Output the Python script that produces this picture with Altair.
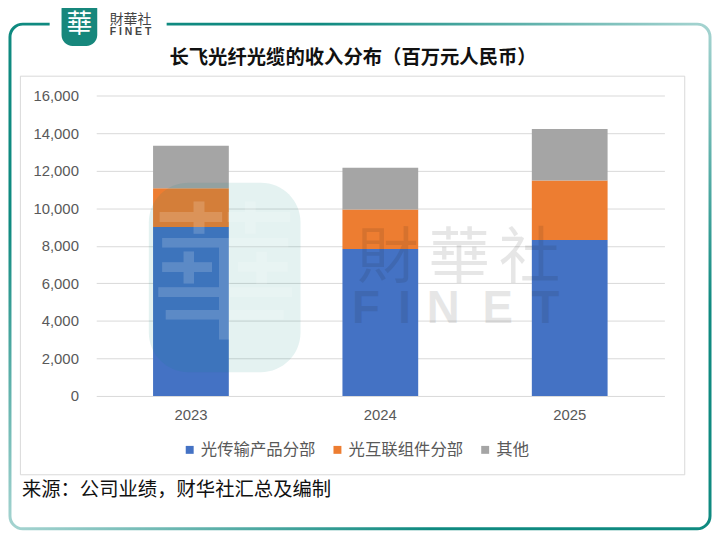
import altair as alt
import pandas as pd

# ---------------- data ----------------
years = ["2023", "2024", "2025"]
series = ["光传输产品分部", "光互联组件分部", "其他"]
transmission = [9000, 7820, 8300]
interconnect = [2060, 2115, 3170]
other = [2260, 2220, 2750]
series_colors = ["#4472C4", "#ED7D31", "#A5A5A5"]
y_ticks = [0, 2000, 4000, 6000, 8000, 10000, 12000, 14000, 16000]
title_text = "长飞光纤光缆的收入分布（百万元人民币）"
source_text = "来源：公司业绩，财华社汇总及编制"
logo_cn = "財華社"
logo_en = "FINET"
logo_char = "華"

rows = []
for k, (name, vals) in enumerate(zip(series, [transmission, interconnect, other])):
    for yr, v in zip(years, vals):
        rows.append({"year": yr, "series": name, "value": v, "k": k})
df = pd.DataFrame(rows)
one = pd.DataFrame({"d": [0]})

W, H = 573, 303
OX, OY = 97, 94  # page position of plot origin


def vx(X):
    return X - OX


def vy(Y):
    return Y - OY


CJK = "Noto Sans CJK SC"
CJK_TC = "Noto Sans CJK TC"
TEAL = "#0f8a80"

# ---------------- frame ----------------
grad = alt.LinearGradient(
    gradient="linear", x1=0, y1=1, x2=1, y2=0,
    stops=[
        alt.GradientStop(color="#a6d4d1", offset=0),
        alt.GradientStop(color=TEAL, offset=0.3),
        alt.GradientStop(color=TEAL, offset=0.72),
        alt.GradientStop(color="#a6d4d1", offset=1),
    ],
)
border = alt.Chart(one).mark_rect(
    fillOpacity=0, stroke=grad, strokeWidth=3, cornerRadius=13
).encode(x=alt.value(vx(10)), x2=alt.value(vx(716)), y=alt.value(vy(22)), y2=alt.value(vy(531)))

gap = alt.Chart(one).mark_rect(fill="white").encode(
    x=alt.value(vx(50)), x2=alt.value(vx(168)), y=alt.value(vy(14)), y2=alt.value(vy(30))
)

logo_blob = alt.Chart(one).mark_rect(fill="#17877c", cornerRadius=11).encode(
    x=alt.value(vx(62)), x2=alt.value(vx(98)), y=alt.value(vy(-4)), y2=alt.value(vy(44))
)
logo_glyph = alt.Chart(one).mark_text(
    text=logo_char, font=CJK_TC, fontSize=26, color="white",
    align="center", baseline="middle"
).encode(x=alt.value(vx(80)), y=alt.value(vy(23)))
logo_cn_t = alt.Chart(one).mark_text(
    text=logo_cn, font=CJK_TC, fontSize=14, color="#444444", align="center", baseline="middle"
).encode(x=alt.value(vx(131.5)), y=alt.value(vy(17.5)))
logo_en_t = alt.Chart(one).mark_text(
    text=" ".join(logo_en), font="Liberation Sans", fontSize=10.5, fontWeight="bold",
    color="#444444", align="center", baseline="middle"
).encode(x=alt.value(vx(131.5)), y=alt.value(vy(30)))

inner_box = alt.Chart(one).mark_rect(fillOpacity=0, stroke="#d9d9d9", strokeWidth=1).encode(
    x=alt.value(vx(20.5)), x2=alt.value(vx(690.5)), y=alt.value(vy(74.5)), y2=alt.value(vy(476.5))
)

title = alt.Chart(one).mark_text(
    text=title_text, font=CJK, fontSize=19.5, fontWeight="bold", color="#111111",
    align="center", baseline="middle"
).encode(x=alt.value(vx(356)), y=alt.value(vy(56)))

source = alt.Chart(one).mark_text(
    text=source_text, font=CJK, fontSize=19.5, color="#111111", align="left", baseline="middle"
).encode(x=alt.value(vx(22)), y=alt.value(vy(492)))

# ---------------- bars ----------------
bars = alt.Chart(df).mark_bar().encode(
    x=alt.X(
        "year:N", sort=years,
        scale=alt.Scale(paddingInner=0.6, paddingOuter=0.3),
        axis=alt.Axis(title=None, labelAngle=0, labelFontSize=15, labelColor="#595959",
                      labelFont="Liberation Sans", labelPadding=12, ticks=False,
                      domain=False, grid=False),
    ),
    y=alt.Y(
        "value:Q", stack="zero",
        scale=alt.Scale(domain=[0, 16000], nice=False),
        axis=alt.Axis(title=None, values=y_ticks, format=",.0f", labelFontSize=15,
                      labelColor="#595959", labelFont="Liberation Sans", labelPadding=18,
                      ticks=False, domain=False, gridColor="#d9d9d9", gridWidth=1),
    ),
    color=alt.Color(
        "series:N", sort=series,
        scale=alt.Scale(domain=series, range=series_colors),
        legend=alt.Legend(title=None, orient="none", legendX=vx(183), legendY=vy(443),
                          direction="horizontal", columns=3, symbolType="square",
                          symbolSize=64, symbolStrokeWidth=0, labelFontSize=16.5,
                          labelColor="#595959", labelFont=CJK, columnPadding=14,
                          labelOffset=3, padding=0),
    ),
    order=alt.Order("k:Q", sort="ascending"),
)

# ---------------- watermark ----------------
wm_blob = alt.Chart(one).mark_rect(fill="#0d8a82", opacity=0.11, cornerRadius=40).encode(
    x=alt.value(vx(150)), x2=alt.value(vx(303)), y=alt.value(vy(182)), y2=alt.value(vy(373))
)
wm_char = alt.Chart(one).mark_text(
    text=logo_char, font=CJK_TC, fontSize=150, color="white", opacity=0.16,
    align="center", baseline="middle"
).encode(x=alt.value(vx(227)), y=alt.value(vy(282)))

wm_layers = [wm_blob, wm_char]
for ch, cx in zip(logo_cn, [391, 463, 534]):
    wm_layers.append(
        alt.Chart(one).mark_text(
            text=ch, font=CJK_TC, fontSize=62, color="#151515", opacity=0.1,
            align="center", baseline="middle"
        ).encode(x=alt.value(vx(cx)), y=alt.value(vy(259)))
    )
for ch, cx in zip(logo_en, [369, 408, 447, 502, 550]):
    wm_layers.append(
        alt.Chart(one).mark_text(
            text=ch, font="Liberation Sans", fontSize=46, fontWeight="bold",
            color="#151515", opacity=0.1, align="center", baseline="middle"
        ).encode(x=alt.value(vx(cx)), y=alt.value(vy(309)))
    )

chart = alt.layer(
    border, gap, logo_blob, logo_glyph, logo_cn_t, logo_en_t, inner_box, title,
    bars, *wm_layers, source
).properties(
    width=W, height=H,
    padding={"left": 89, "top": 86, "right": 48, "bottom": 141},
    autosize=alt.AutoSizeParams(type="none"),
).configure_view(strokeWidth=0)

chart.save("out.html", embed_options={"renderer": "svg", "actions": False})
